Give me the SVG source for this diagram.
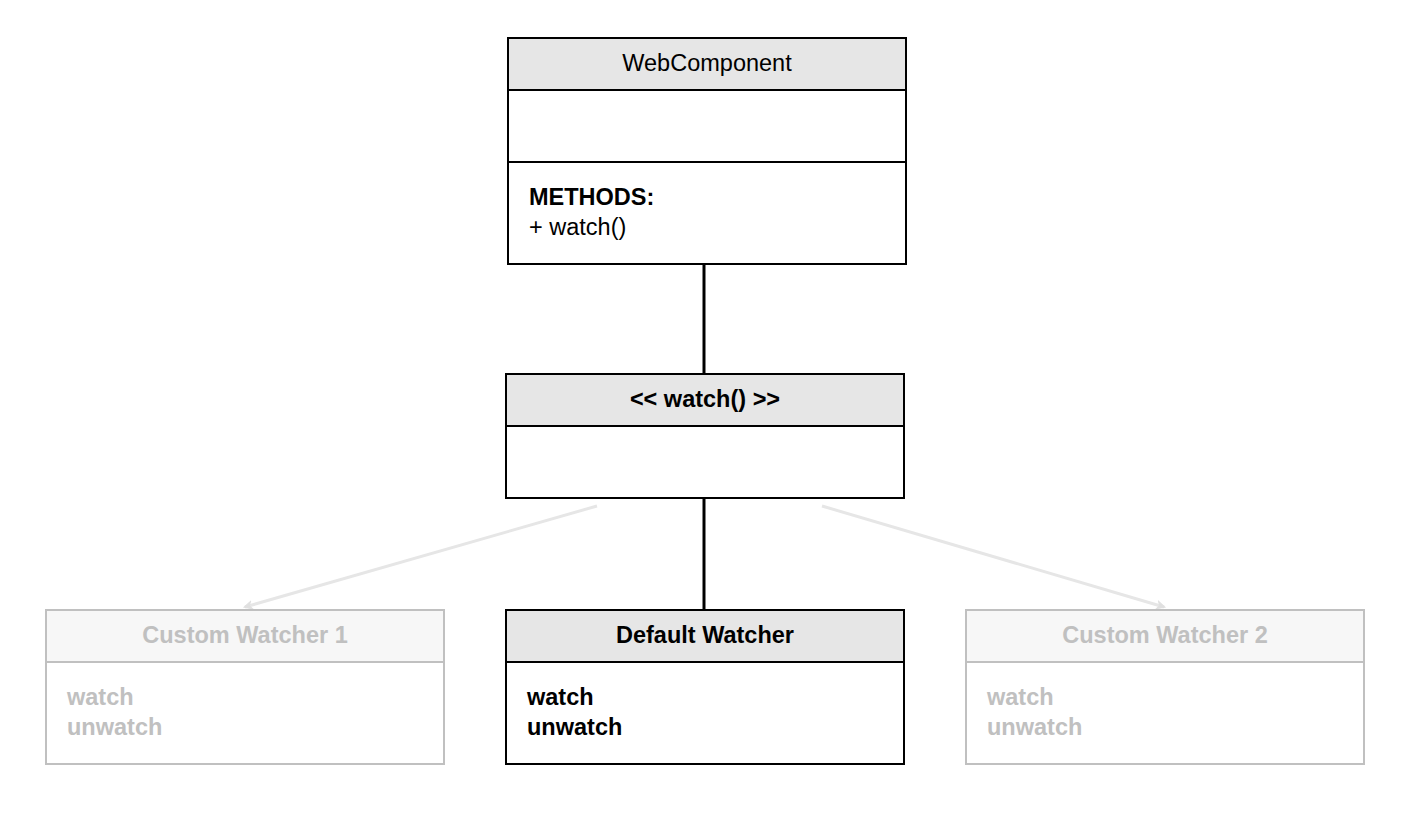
<svg xmlns="http://www.w3.org/2000/svg" width="1418" height="814" viewBox="0 0 1418 814">
<defs>
<style>
text{font-family:"Liberation Sans",Arial,Helvetica,sans-serif;font-size:23.5px;}
.b{font-weight:bold;}
.c{text-anchor:middle;}
.box{fill:#fff;stroke:#000;stroke-width:2;}
.hdr{fill:#e6e6e6;stroke:#000;stroke-width:2;}
.gbox{fill:#fff;stroke:#c0c0c0;stroke-width:2;}
.ghdr{fill:#f7f7f7;stroke:#c0c0c0;stroke-width:2;}
.gt{fill:#c0c0c0;}
.dark{stroke:#000;stroke-width:3;fill:none;}
.light{stroke:#e6e6e6;stroke-width:3;fill:none;marker-end:url(#ah);}
</style>
<marker id="ah" markerWidth="12" markerHeight="12" refX="8" refY="6" orient="auto" markerUnits="userSpaceOnUse">
<path d="M1,2 L9,6 L1,10 L3.5,6 Z" fill="#e0e0e0" stroke="#e0e0e0" stroke-width="1"/>
</marker>
</defs>
<rect width="1418" height="814" fill="#fff"/>
<g id="connectors">
<line class="dark" x1="704" y1="264" x2="704" y2="374"/>
<line class="dark" x1="704" y1="498" x2="704" y2="609"/>
<line class="light" x1="597" y1="506" x2="245" y2="607"/>
<line class="light" x1="822" y1="506" x2="1164" y2="607"/>
</g>
<g id="webcomponent">
<rect class="box" x="508" y="38" width="398" height="226"/>
<rect class="hdr" x="508" y="38" width="398" height="52"/>
<line x1="508" y1="162" x2="906" y2="162" stroke="#000" stroke-width="2"/>
<text class="c" x="707" y="71">WebComponent</text>
<text class="b" x="529" y="205">METHODS:</text>
<text x="529" y="235">+ watch()</text>
</g>
<g id="watch-interface">
<rect class="box" x="506" y="374" width="398" height="124"/>
<rect class="hdr" x="506" y="374" width="398" height="52"/>
<text class="c b" x="705" y="407">&lt;&lt; watch() &gt;&gt;</text>
</g>
<g id="custom-watcher-1">
<rect class="gbox" x="46" y="610" width="398" height="154"/>
<rect class="ghdr" x="46" y="610" width="398" height="52"/>
<text class="c b gt" x="245" y="643">Custom Watcher 1</text>
<text class="b gt" x="67" y="705">watch</text>
<text class="b gt" x="67" y="735">unwatch</text>
</g>
<g id="default-watcher">
<rect class="box" x="506" y="610" width="398" height="154"/>
<rect class="hdr" x="506" y="610" width="398" height="52"/>
<text class="c b" x="705" y="643">Default Watcher</text>
<text class="b" x="527" y="705">watch</text>
<text class="b" x="527" y="735">unwatch</text>
</g>
<g id="custom-watcher-2">
<rect class="gbox" x="966" y="610" width="398" height="154"/>
<rect class="ghdr" x="966" y="610" width="398" height="52"/>
<text class="c b gt" x="1165" y="643">Custom Watcher 2</text>
<text class="b gt" x="987" y="705">watch</text>
<text class="b gt" x="987" y="735">unwatch</text>
</g>
</svg>
